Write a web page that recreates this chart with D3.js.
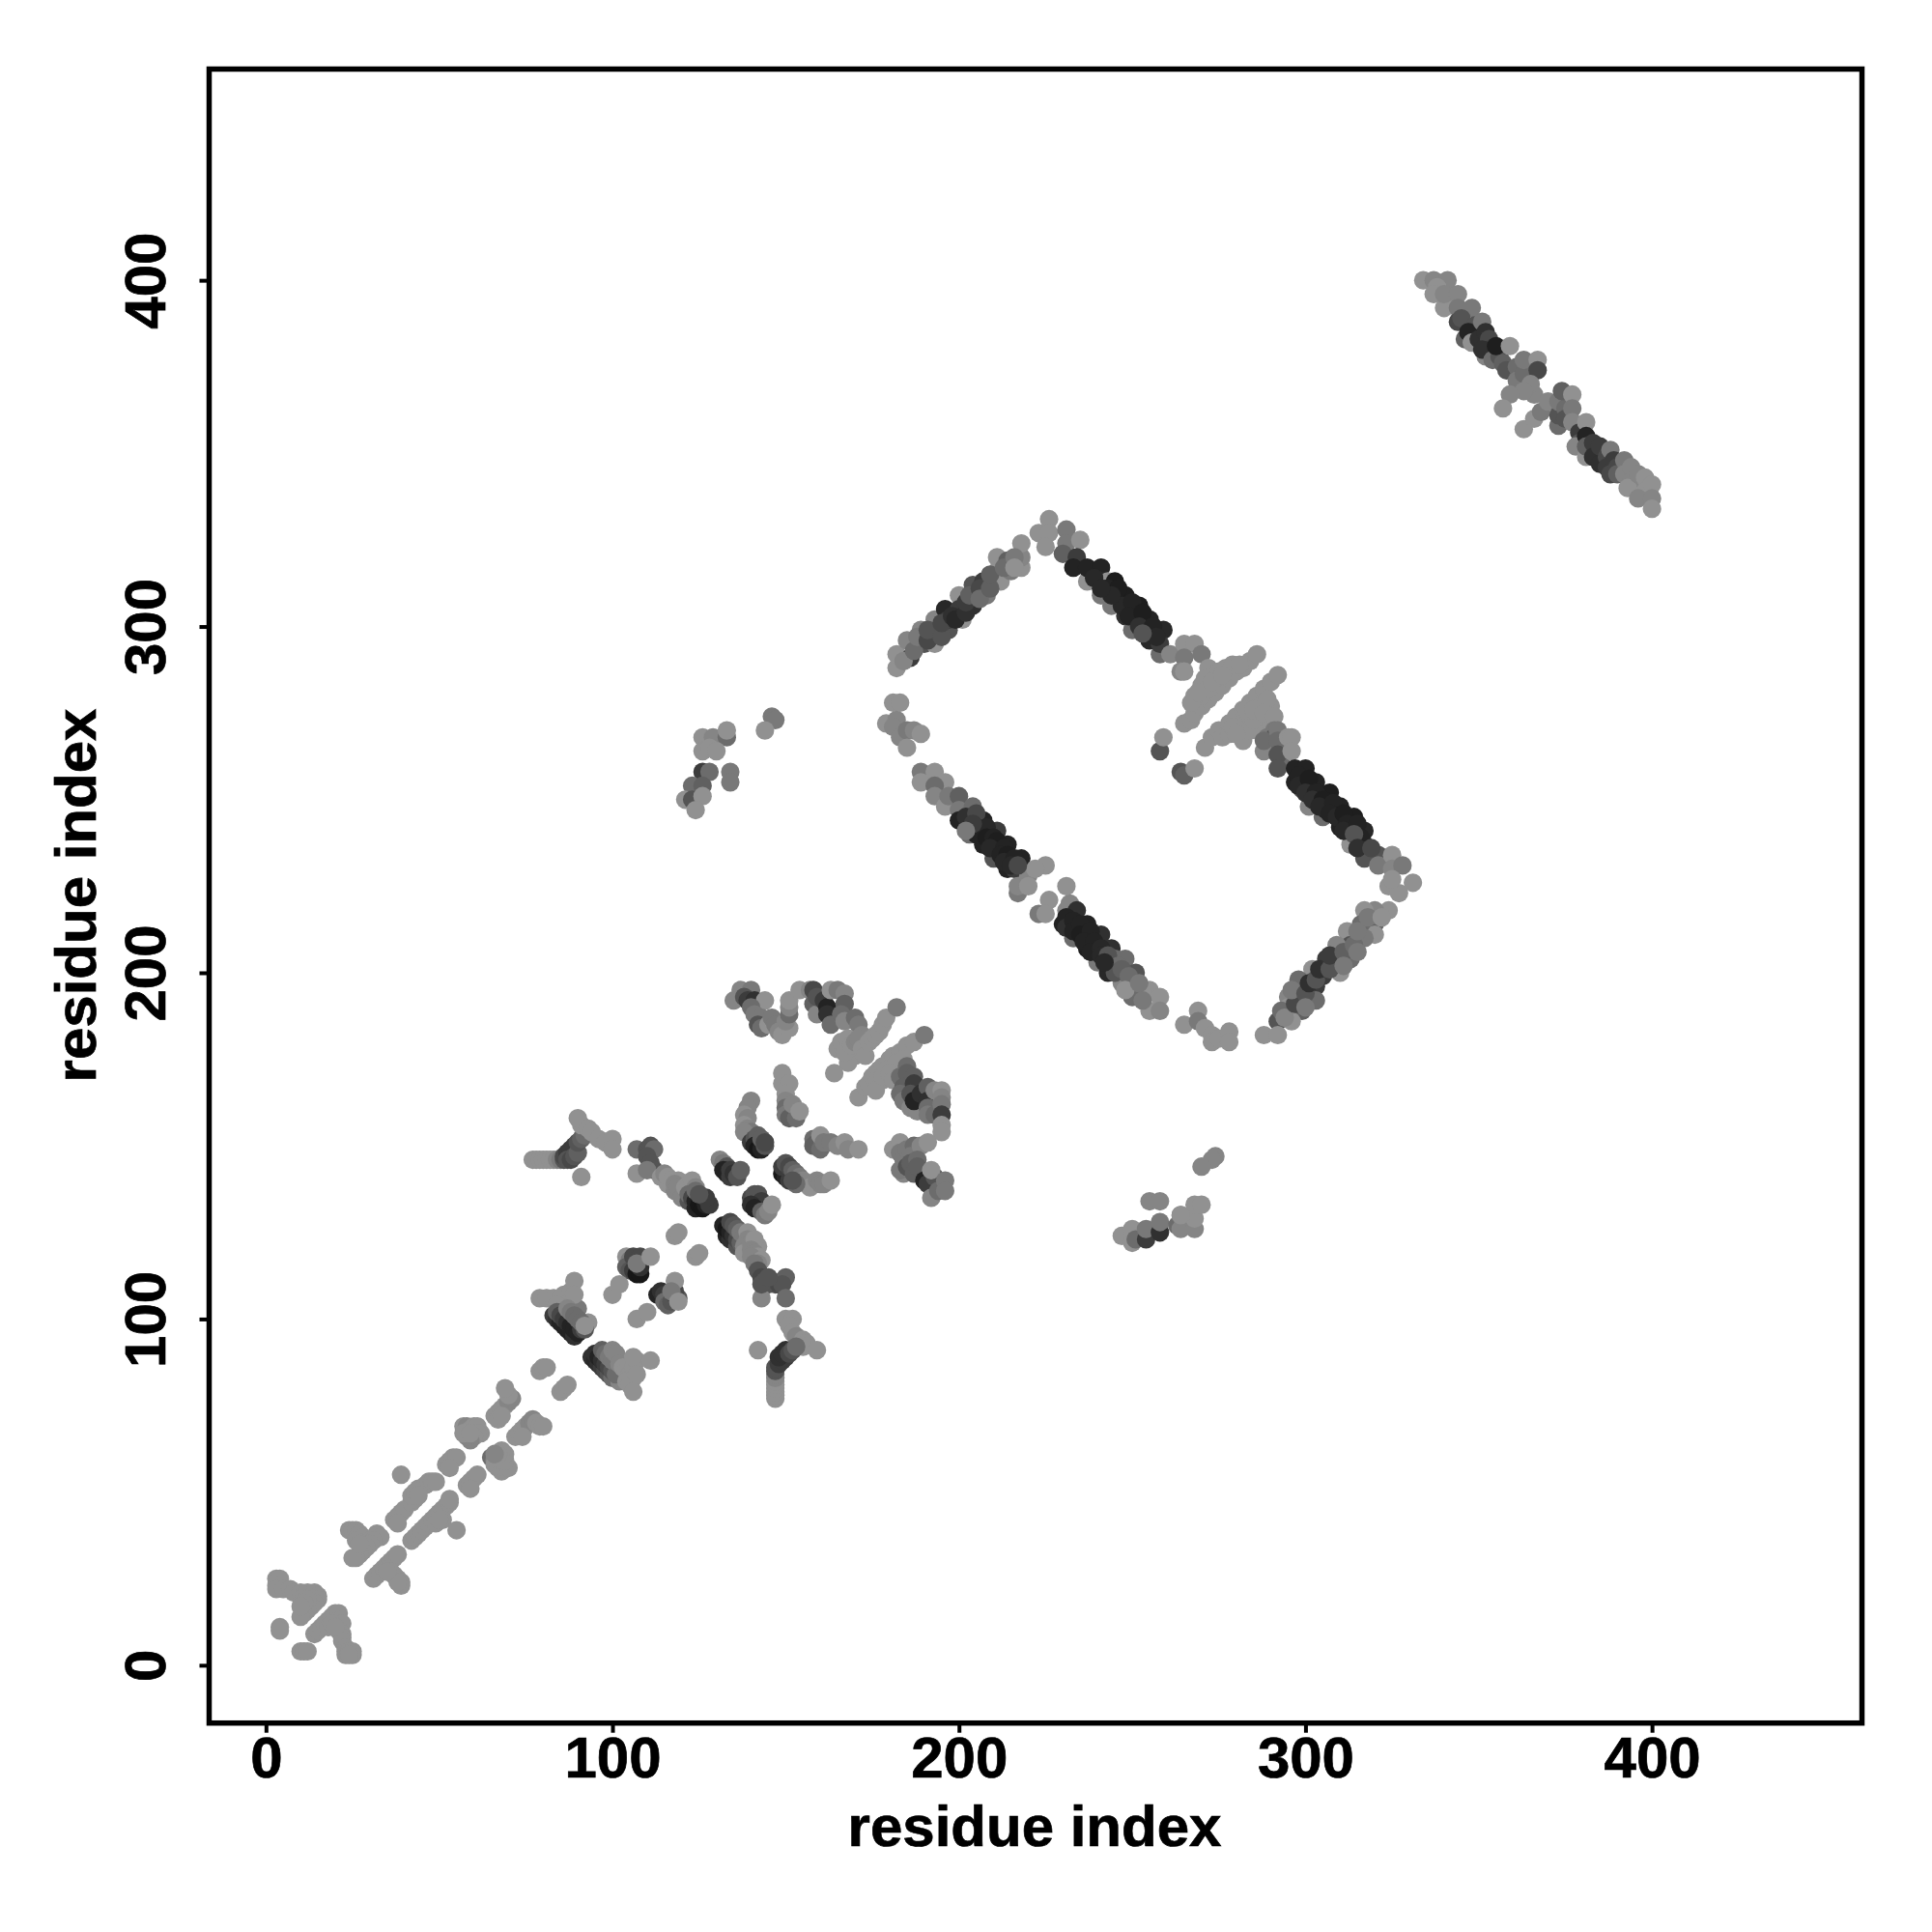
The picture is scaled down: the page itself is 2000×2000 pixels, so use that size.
<!DOCTYPE html>
<html><head><meta charset="utf-8">
<script src="https://cdn.jsdelivr.net/npm/d3@7"></script>
<style>html,body{margin:0;padding:0;background:#fff}svg{display:block}</style>
</head><body><div id="chart"></div>
<script>
// Each contact: [residue i, residue j, grey level]
const L=.55;
const tickValues=[0,100,200,300,400];
const xTitle="residue index", yTitle="residue index";

const nearDiagonal=[[3,25,L],[4,25,L],[3,23,L],[3,22,L],[5,22,L],[7,22,L],[8,21,L],[10,21,L],[11,20,L],[12,21,L],[14,21,L],[15,20,L],[15,19,L],[14,18,L],[13,17,L],[12,16,L],[11,15,L],[10,14,L],[12,19,L],[11,18,L],[10,17,L],[4,11,L],[4,10,L],[10,4,L],[11,4,L],[12,4,L],
[14,9,L],[15,10,L],[16,11,L],[17,12,L],[18,13,L],[19,14,L],[20,15,L],[21,15,L],[21,13,L],[22,12,L],[21,10,L],[22,9,L],[22,8,L],[22,7,L],[23,5,L],[23,4,L],[23,3,L],[24,4,L],[25,3,L],[25,4,L],[24,3,L],[18,11,L],[19,12,L],[20,11,L],
[24,39,L],[25,39,L],[26,39,L],[27,38,L],[28,37,L],[30,36,L],[32,38,L],[33,37,L],[31,36,L],[30,35,L],[29,34,L],[28,33,L],[27,32,L],[26,31,L],[25,31,L],[26,36,L],[27,35,L],
[31,25,L],[32,26,L],[33,27,L],[34,28,L],[35,29,L],[36,30,L],[37,31,L],[38,32,L],[36,27,L],[37,26,L],[38,25,L],[39,24,L],[39,23,L],[38,24,L],[35,27,L],
[37,42,L],[38,43,L],[39,44,L],[40,45,L],[42,47,L],[43,48,L],[42,49,L],[43,50,L],[44,51,L],[46,52,L],[47,53,L],[48,53,L],[49,53,L],[39,55,L],[38,41,L],[44,49,L],
[42,36,L],[43,37,L],[44,38,L],[45,39,L],[46,40,L],[47,41,L],[48,42,L],[49,43,L],[50,44,L],[51,45,L],[52,46,L],[53,47,L],[53,48,L],[51,42,L],[55,39,L],[49,41,L],[50,42,L],
[52,58,L],[53,59,L],[54,60,L],[55,60,L],[53,57,L],[58,52,L],[59,53,L],[60,54,L],[61,55,L],[59,51,L],
[57,69,L],[58,69,.5],[59,68,L],[60,69,L],[61,69,L],[62,67,L],[61,67,L],[60,66,L],[59,65,.5],[58,66,.5],[57,67,L],[59,67,L],
[65,60,.4],[66,59,.5],[66,58,L],[67,57,L],[68,56,L],[69,57,L],[70,57,L],[69,59,L],[69,61,L],[68,62,L],[67,61,L],[66,61,.5],
[66,72,L],[67,73,L],[68,74,L],[69,75,L],[70,76,.5],[71,77,.5],[70,78,L],[69,80,L],[67,71,L],[68,72,L],
[72,66,L],[73,67,L],[74,68,L],[75,69,L],[76,70,.5],[77,71,.5],[78,70,L],[79,69,L],[80,69,L],[74,66,L],
[79,85,L],[80,86,L],[81,86,L],[85,79,L],[86,80,L],[87,81,L]];

const crossUnder=[[83,101,.2],[84,100,.15],[85,99,.1],[86,98,.1],[87,97,.1],[88,96,.1],[89,95,.15],[94,89,.15],[95,88,.12],[96,87,.15],[97,86,.2],[98,85,.25],[99,84,.3],[100,83,.4],[102,82,.5],[103,83,.5],[85,103,.5],[86,104,L],[88,105,.5],[90,103,.45],[93,99,L]];

const centralCross=[[79,106,L],[81,106,L],[83,106,L],[85,106,L],[86,107,L],[88,108,L],[89,111,L],[89,107,L],[84,104,L],[84,102,.35],[85,101,.25],[86,100,.2],[87,99,.15],[88,98,.1],[89,97,.1],[90,96,.1],[91,97,.2],[92,97,.3],[87,103,.5],[88,102,.45],[89,101,.4],[90,100,.4],[91,99,.4],[92,98,L],
[95,90,.15],[96,89,.1],[97,88,.15],[98,87,.2],[99,86,.25],[100,85,.3],[101,84,.4],[97,91,.35],[98,90,.4],[99,89,.45],[100,88,.45],[100,91,.5],[101,90,.5],[102,87,.5],[103,86,L],[104,85,L],[105,84,L],[106,83,L],[104,82,L],[105,81,L],[106,79,L],[106,86,L],[107,88,L],[106,89,L],[111,88,L],[107,84,L],
[104,118,L],[105,117,.45],[104,115,.35],[105,114,.3],[106,114,.2],[107,113,.05],[108,113,.05],[108,115,.15],[107,117,.15],[106,118,.25],[108,118,.25],[107,116,.45],[111,118,L],[100,107,L],[102,110,L],
[113,107,.1],[114,108,.15],[115,107,.2],[115,105,.4],[116,104,.35],[117,105,.3],[118,107,.2],[119,106,.3],[118,108,.25],[118,111,L],[117,108,.45],[119,105,L],[107,100,L],[110,102,L],[118,124,L],[119,125,L],[124,118,L],[125,119,L],
[107,149,.4],[110,149,.3],[111,150,.3],[112,149,.4],[110,147,.3],[111,145,.3],[112,143,.3],[107,142,L],[110,143,.45],[114,141,L],[116,139,L],[118,137,.5],[119,140,L],[115,142,.5],[116,141,L],[117,140,L],[118,139,.5],[119,138,.5],[120,137,.5],[121,136,.45],[120,135,.5],[121,138,L],[122,139,L],[123,140,L],[124,138,.5],[122,134,.3],[124,132,.1],[122,136,.4],[123,135,.25],[124,134,.1],[125,133,.05],[126,132,.05],[127,133,.1],[128,133,.2],[127,135,.2],[124,137,.4],[125,136,.3],
[131,146,.5],[132,145,.45],[133,144,.3],[132,143,.1],[133,142,.1],[134,141,.2],[134,143,.2],[135,142,.15],[136,141,.3],[137,143,.35],
[140,163,.5],[139,161,.5],[138,159,L],[139,158,.5],[138,156,L],[139,155,.5],[140,154,.45],[138,154,.5],[140,151,.2],[141,152,.3],[142,153,.35],[141,150,.1],[142,149,.05],[143,149,.1],[143,152,.35],[144,150,.3],[144,151,.25],
[149,171,L],[149,168,L],[151,168,L],[150,165,L],[150,163,.5],[150,161,.4],[150,159,.45],[151,158,.35],[153,158,.4],[152,162,.5],[154,160,L],
[158,152,.4],[159,151,.35],[158,150,.35],[160,149,.4],[160,153,L],[161,151,.45],[163,151,.45],[165,150,.5],[167,151,L],[168,149,.5],[171,149,L],
[149,142,.05],[150,141,.1],[151,140,.2],[149,144,.2],[150,145,.3],[151,144,.25],[152,143,.35],[153,142,.4],[154,141,.45],[155,140,.5],[156,139,.5],[157,138,L],[153,139,.4],[152,140,.3],[159,140,.5],[160,139,.5],[161,139,.5],[163,140,L],
[140,135,.25],[141,136,.3],[142,136,.3],[143,134,.2],[140,133,.15],[141,132,.1],[143,131,.35],[144,130,.45],[145,131,.5],[146,133,L],
[133,124,.1],[134,123,.15],[136,121,.3],[132,127,.1],[133,126,.05],[134,125,.1],[135,124,.15],[136,123,.25],[137,122,.35],[134,128,.25],[135,127,.3],[136,126,.35],[137,125,.45],[138,124,.45],[139,125,L],[139,123,.5],[138,121,.5],[139,120,.5],[138,119,L],[140,122,.5],[142,121,L],[141,123,L],[140,120,.5],[141,119,.5],[142,118,L],[140,118,.5],[143,117,L],[142,116,.5],[141,116,.45],[142,114,.3],[143,112,.25],[144,111,.3],[145,110,.3],[147,110,.3],[148,110,.25],[149,111,.3],[150,112,.35],[149,110,.3],[143,106,.5],[150,106,.4],[143,110,.3],[145,112,.3],
[150,100,L],[152,100,L],[151,98,L],[152,96,L],[153,95,.5],[155,94,L],[156,93,L],[155,92,L],[159,91,L],[142,91,L],[147,77,L],[147,78,L],[147,79,L],[147,80,L],[147,81,L],[147,82,L],[147,83,.5],[147,84,.5],[147,85,.3],[147,86,.3],[148,87,.2],[149,88,.2],[150,89,.2],[148,89,.15],[149,90,.15],[150,91,.15],[151,90,.25],[152,91,.3],[153,92,.4],
[77,146,L],[78,146,L],[79,146,L],[80,146,L],[81,146,L],[82,146,L],[83,146,L],[84,146,.5],[85,146,.45],[86,146,.3],[86,147,.25],[87,148,.2],[88,149,.2],[89,150,.2],[87,146,.3],[88,146,.25],[89,147,.3],[90,148,.35],[90,151,.3],[91,152,.35],[92,153,.4],[91,156,L],[90,158,L],[93,155,L],[94,154,L],[96,152,L],[98,151,L],[100,152,L],[100,149,L],[91,141,L]];

const upperWing=[[137,195,.5],[140,195,.45],[135,192,.5],[138,193,.3],[139,192,.2],[141,192,.15],[144,192,L],[140,190,.4],[141,188,.45],[143,187,.45],[142,185,.3],[143,184,.4],[145,185,L],[146,187,.45],[147,185,.45],[148,183,.5],[149,182,L],[151,184,L],[150,186,.5],[151,188,.4],[151,190,.5],[151,192,L],[154,195,L],[157,195,.5],[158,191,.35],[159,188,.5],[158,195,.25],[159,193,.3],[161,192,.2],[162,190,.1],[162,188,.15],[163,185,.4],[163,195,L],[165,195,.45],[167,194,.5],[167,191,.35],[166,188,.4],[167,186,.5],[170,187,.4],[171,185,.45],[172,182,.5],[172,180,L],[171,178,L],[170,176,L],[169,177,L],[168,174,L],[165,178,L],[164,171,L],[166,180,L],[168,181,L],[167,177,L],[169,179,L],[170,180,.5],[171,181,.5],[172,178,L],[173,176,L],[174,180,L],[175,181,L],[176,182,L],[177,183,L],[178,185,L],[179,187,L],[182,190,.45],
[171,164,L],[173,167,L],[174,168,L],[175,170,L],[176,171,L],[177,172,L],[178,173,L],[180,175,L],[181,176,L],[183,177,L],[185,179,L],[187,180,L],[190,182,.45],[176,168,L],[178,169,L],[176,166,L],[179,172,L],[182,174,L],[184,175,L],[185,173,.4],[183,168,.4],[178,170,L],[180,171,L],[181,169,L],[183,170,.4],[185,171,.35],[187,170,.35],[184,167,.35],[183,165,.4],[184,163,.45],[186,161,.5],[188,160,.5],[187,168,.2],[186,165,.3],[187,163,.1],[189,165,.15],[191,167,.35],[191,163,.15],[191,161,.4],[191,159,.45],[193,159,.4],[193,166,.5],[195,166,L],[195,164,.5],[195,162,.45],[195,159,.2],[195,156,L],[195,154,L],
[181,149,L],[183,151,L],[183,148,.45],[184,146,.45],[185,149,.45],[187,150,.4],[186,147,.45],[189,150,.5],[191,151,L],[184,142,.5],[183,143,.45],[185,144,.3],[186,145,.35],[188,146,.4],[187,142,.35],[188,144,.35],[190,140,.1],[191,139,.2],[193,141,.3],[192,143,L],[192,135,.5],[194,137,.4],[196,140,.45],[196,137,.45]];

const sideBlobs=[[146,274,.45],[147,273,.45],[144,270,L],[126,268,L],[129,268,.5],[133,268,.4],[133,270,L],[126,264,L],[128,265,L],[130,264,L],
[126,258,.2],[128,258,.4],[134,258,.45],[134,255,.45],[123,254,.4],[126,254,.35],[121,250,L],[123,250,.3],[126,251,L],[124,247,L],
[274,147,.5],[273,146,.5],[270,144,.5],[255,134,.5],[258,134,.5],[247,124,L],[250,126,L],[250,122,L],[251,123,.4],[254,123,.2],[254,126,.45],[258,125,.15],[258,128,.45],[264,130,.5],[263,127,.4],[264,126,.5],[268,126,.5],[268,129,L],[268,133,L],[270,133,L],[264,130,L]];

const ringArms=[[182,288,L],[182,292,L],[186,291,.2],[185,296,.5],[190,295,.3],[189,299,.5],[193,295,L],[193,298,.2],[193,302,.5],[197,299,.3],[196,305,.12],[197,302,.2],[201,302,L],[200,309,L],[200,305,.2],[204,306,.15],[204,312,.3],[208,309,.45],[207,313,.2],[212,313,L],[211,316,L],[211,320,L],[214,319,.35],[215,316,.45],[218,317,L],[218,320,.5],[218,324,L],
[226,331,L],[223,327,L],[226,327,L],[225,323,L],[231,328,.45],[231,324,.45],[230,321,.35],[235,325,L],[234,320,.2],[233,317,.1],[237,313,L],[237,317,.1],[241,309,.45],[240,314,L],[241,317,.1],[241,313,.15],[243,313,L],[245,313,.07],[244,306,.45],[245,309,.1],[248,309,.08],[248,303,.15],[250,299,.4],[250,306,L],[252,306,.08],[251,303,.1],[255,302,.1],[255,296,.12],[258,292,.4],[259,299,.12],[258,295,.2],[261,292,.5],[265,295,L],[268,295,L],[265,291,.45],[270,292,.45],[264,287,.5],[265,287,L],
[272,288,L],[265,272,L],[267,273,L],[268,275,L],[270,277,L],[272,279,L],[274,281,L],[276,283,L],[278,285,L],[280,287,L],[282,288,L],[284,290,L],[286,292,L],[270,280,L],[272,282,L],[271,285,L],[274,285,L],[275,287,L],[277,288,L],[279,289,L],[281,289,L],[270,283,L],[268,280,L],[267,278,L],[269,281,L],[273,284,L],[276,286,L],
[271,265,L],[273,268,L],[275,270,L],[276,268,L],[278,269,L],[278,272,L],[280,274,L],[279,271,L],[282,276,L],[283,272,L],[284,274,L],[284,278,L],[286,280,L],[288,282,L],[290,284,L],[292,286,L],[287,277,L],[287,274,L],[289,275,L],[290,277,L],[288,272,L],[289,279,L],[286,270,L],[290,272,L],[282,267,L],[284,270,L],[280,269,L],[285,273,L],[283,276,L],[285,276,L],[288,275,L],[291,274,L],
[258,264,.3],[259,268,L],[264,258,.3],[265,257,.35],[268,259,L],
[291,270,.45],[289,268,.45],[290,265,.4],[293,262,.4],[295,266,L],[291,268,.3],[293,268,.35],[288,264,.5],[288,267,.4],[292,270,.45],[292,267,.4],[292,263,.3],[292,259,.3],[295,268,L],[296,268,L],[296,264,L],[299,253,.35],[297,259,.1],[300,259,.1],[297,255,.1],[303,255,.1],[301,248,.5],[305,245,.4],[306,251,L],[307,252,.08],[306,247,.1],[310,248,.1],[310,242,.1],[313,244,L],[314,245,.08],[317,241,.12],[313,237,L],[317,237,.12],[317,233,.3],[321,234,.3],[321,231,.45],[325,234,L],[325,230,.5],[328,231,.45],[324,225,L],[327,223,L],[331,226,L],[325,227,L],
[324,218,L],[320,218,.5],[317,218,L],[320,214,.35],[320,211,L],[316,214,.4],[317,210,.45],[312,212,L],[313,208,.3],[309,208,.5],[313,204,.4],[306,204,.2],[309,204,.4],[310,200,L],[302,201,L],[305,199,.2],[303,196,.2],[298,198,.4],[298,192,.1],[295,193,.5],[299,189,.35],[303,192,.4],[295,190,L],[292,186,.3],[296,186,L],[288,182,L],[292,182,L],
[269,189,L],[265,185,L],[269,186,.45],[271,184,L],[273,182,L],[273,180,L],[275,181,L],[278,183,L],[278,180,L],
[189,258,.45],[193,258,L],[189,255,L],[196,255,L],[193,254,.4],[193,251,.5],[196,248,L],[197,251,.45],[200,251,.35],[200,247,.45],[200,244,.1],[204,248,.4],[203,240,.4],[207,244,.1],[207,237,.1],[209,241,.5],[211,241,.2],[210,233,.3],[214,237,.1],[211,236,.1],[214,230,.1],[218,233,.1],[216,230,.2],[217,223,.45],[217,225,.5],[220,228,.5],[225,231,L],[222,230,L],[220,225,L],
[231,225,L],[223,217,.45],[226,221,L],[225,217,L],[231,218,.5],[232,220,.5],[230,214,.1],[234,218,.15],[233,210,.4],[237,214,.1],[237,207,.08],[241,211,.15],[240,203,.45],[244,207,.15],[243,200,.12],[245,204,.4],[248,204,.4],[247,197,.5],[251,200,.3],[250,193,.4],[255,195,L],[258,193,L],[255,189,L],[258,189,.5],
[181,278,L],[183,278,L],[179,272,L],[182,273,.5],[181,271,.5],[183,268,.5],[185,270,.45],[187,270,.5],[189,269,L],[185,265,L]];

const ringFill=[[239,314,.12],[243,311,.1],[246,311,.08],[247,306,.12],[250,307,.1],[249,303,.1],[253,304,.08],[252,300,.15],[256,300,.1],[257,297,.12],[253,298,.3],[244,309,.12],[241,311,.12],
[298,257,.1],[298,254,.12],[301,256,.08],[300,252,.15],[303,252,.1],[302,250,.15],[305,250,.08],[304,248,.12],[308,249,.1],[307,246,.1],[309,245,.12],[311,246,.08],[312,243,.1],[311,241,.12],[315,243,.1],[316,239,.1],[314,240,.3],[315,236,.15],[319,236,.25],
[202,245,.15],[205,246,.25],[205,242,.12],[205,240,.1],[208,242,.12],[208,239,.08],[210,239,.1],[211,238,.08],[209,236,.12],[213,236,.1],[212,234,.1],[214,234,.08],[213,232,.12],[216,233,.1],[215,231,.12],[217,231,.25],[204,243,.2],[202,241,.45],
[231,216,.1],[231,213,.15],[233,215,.1],[233,212,.1],[235,214,.1],[235,211,.08],[238,212,.1],[236,209,.1],[239,209,.1],[238,206,.1],[241,207,.12],[241,205,.12],[243,205,.3],[246,202,.4],[245,200,.3],[247,201,.35],[249,199,.4],[242,203,.12],[248,195,L],[252,197,.45],[253,192,.45],
[184,290,.5],[187,293,.4],[188,297,.45],[191,296,.25],[191,299,.3],[195,297,.3],[195,301,.25],[198,303,.15],[199,302,.12],[202,304,.15],[202,307,.2],[203,309,.35],[206,311,.25],[206,308,.4],[209,311,.35],[209,315,.35],[213,317,.4],[216,320,.45],[216,317,L],
[293,189,.4],[294,187,.5],[297,191,.25],[296,195,.45],[300,194,.3],[301,197,.15],[300,190,.45],[303,198,.3],[304,201,.15],[307,201,.3],[307,205,.2],[311,206,.35],[311,202,.45],[314,208,.4],[315,212,.45],[318,216,.45],[322,216,L],[315,206,.45]];

const farStrip=[[334,400,L],[337,400,.5],[341,400,.5],[338,398,L],[337,396,L],[342,394,L],[340,392,L],[340,396,.5],[344,396,.5],[344,392,.45],[348,392,.45],[344,388,.25],[345,389,.3],[349,387,.3],[346,383,.35],[347,385,.1],[351,388,.45],[348,382,L],[350,383,.15],[352,385,.15],[353,383,.25],[353,380,.2],[352,378,.5],[351,380,.15],[354,377,.4],[356,378,.3],[355,381,.08],[357,376,.35],[359,381,L],[358,374,.3],[361,375,.4],[361,371,.45],[363,373,.4],[363,377,.45],[367,377,L],[367,374,.25],[366,367,.5],[365,370,.5],[363,368,.5],[359,367,.5],[357,363,L],
[363,357,L],[366,360,L],[368,362,.45],[370,365,.5],[373,358,.4],[373,361,.3],[373,365,.45],[375,363,.4],[375,360,.3],[374,368,.35],[377,367,L],[377,363,.45],[377,359,.5],[379,356,.2],[379,353,.3],[378,352,.5],[381,359,L],[381,355,.1],[381,349,L],[381,352,.35],[383,353,.2],[383,349,.15],[385,347,.15],[385,352,.2],[387,349,.25],[387,346,.2],[388,351,.45],[389,348,.2],[388,344,.25],[390,346,.25],[390,344,.35],[392,348,.45],[392,344,.5],[394,346,.5],[394,342,.5],[393,340,L],[396,344,.5],[398,343,L],[398,339,L],[396,337,.5],[400,341,L],[400,337,.5],[400,334,L]];

const contacts=[...nearDiagonal,...sideBlobs,...farStrip,...ringArms,...ringFill,...crossUnder,...centralCross,...upperWing];

const svg=d3.select("#chart").append("svg").attr("width",2000).attr("height",2000).attr("viewBox","0 0 2000 2000");
const left=216.5,right=1927.5,top_=71.5,bottom=1783.7;
const x=d3.scaleLinear().domain([-16.4,460.6]).range([left,right]);
const y=d3.scaleLinear().domain([-16.7,461]).range([bottom,top_]);
const grey=d3.scaleLinear().domain([0,L]).range(["#0b0b0b","#919191"]);
const font="'Liberation Sans',Arial,sans-serif";

svg.append("g").selectAll("circle").data(contacts).join("circle")
  .attr("cx",d=>x(d[0])).attr("cy",d=>y(d[1])).attr("r",9.6).attr("fill",d=>grey(d[2]));

svg.append("rect").attr("x",left).attr("y",top_).attr("width",right-left).attr("height",bottom-top_)
  .attr("fill","none").attr("stroke","#000").attr("stroke-width",5.5);

const ax=svg.append("g").attr("transform",`translate(0,${bottom})`)
  .call(d3.axisBottom(x).tickValues(tickValues).tickFormat(d3.format("d")).tickSize(10).tickSizeOuter(0));
const ay=svg.append("g").attr("transform",`translate(${left},0)`)
  .call(d3.axisLeft(y).tickValues(tickValues).tickFormat(d3.format("d")).tickSize(10).tickSizeOuter(0));
const textStyle=s=>s.attr("fill","#000").attr("stroke","#000").attr("stroke-width",.7).style("font-family",font).style("font-weight","700").style("font-size","60px");
[ax,ay].forEach(g=>{g.select(".domain").remove();
  g.selectAll("line").attr("stroke","#000").attr("stroke-width",4);
  g.selectAll("text").call(textStyle);});
ax.selectAll("text").attr("y",56.5).attr("dy",0);
ay.selectAll("text").attr("x",0).attr("y",0).attr("dy",0).attr("text-anchor","middle").attr("transform","translate(-45.5,0) rotate(-90)");

svg.append("text").attr("x",1071).attr("y",1911).attr("text-anchor","middle").text(xTitle).call(textStyle);
svg.append("text").attr("transform","translate(99,927) rotate(-90)").attr("text-anchor","middle").text(yTitle).call(textStyle);
</script></body></html>
